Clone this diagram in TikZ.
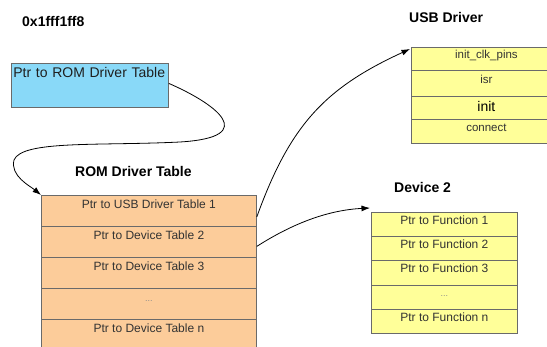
\documentclass[tikz,border=0pt]{standalone}
\usepackage{fontspec}
\setmainfont{Liberation Sans}
\usetikzlibrary{arrows.meta}
\definecolor{peach}{HTML}{FCCC9A}
\definecolor{lyellow}{HTML}{FFFF99}
\definecolor{lblue}{HTML}{89D9F8}
\definecolor{edgegray}{HTML}{6A6A6A}
\definecolor{txtgray}{HTML}{333333}
\tikzset{
  rowbox/.style={draw=edgegray, line width=0.8pt, anchor=north west, inner sep=0pt, text=txtgray},
  romrow/.style={rowbox, fill=peach, minimum width=215pt, text height=13pt, text depth=18pt, font=\fontsize{12}{14}\selectfont},
  usbrow/.style={rowbox, fill=lyellow, minimum width=150pt, font=\fontsize{11.5}{13}\selectfont},
  devrow/.style={rowbox, fill=lyellow, minimum width=146pt, text height=12pt, text depth=12.2pt, font=\fontsize{12}{14}\selectfont},
  dotsrow/.style={text=black!45, font=\fontsize{9}{10}\selectfont},
  bluebox/.style={draw=edgegray, line width=0.8pt, fill=lblue, anchor=north west, minimum width=157pt, text width=153pt, inner xsep=2pt, inner ysep=0pt, align=left, text height=14pt, text depth=30pt, font=\fontsize{14}{16}\selectfont, text=black!88},
  title/.style={anchor=base west, inner sep=0pt, font=\bfseries\fontsize{14}{16}\selectfont},
  ptr/.style={-{Latex[length=8.5pt,width=6pt]}, line width=0.8pt},
}
\begin{document}
\begin{tikzpicture}[x=1pt,y=-1pt]
\clip (0,0) rectangle (547,347);
\fill[white] (0,0) rectangle (547,347);

% titles
\node[title] (addr) at (22,27) {0x1fff1ff8};
\node[title] (romtitle) at (75,177) {ROM Driver Table};
\node[title] (usbtitle) at (409,23) {USB Driver};
\node[title] (devtitle) at (394,193) {Device 2};

% pointer box
\node[bluebox] (romptr) at (11,63) {\mbox{Ptr to ROM Driver Table}};

% ROM driver table
\node[romrow] (rom1) at (41,195) {Ptr to USB Driver Table 1};
\node[romrow] (rom2) at (41,226) {Ptr to Device Table 2};
\node[romrow] (rom3) at (41,257) {Ptr to Device Table 3};
\node[romrow, dotsrow] (rom4) at (41,288) {...};
\node[romrow] (rom5) at (41,319) {Ptr to Device Table n};

% USB driver table
\node[usbrow, text height=11pt, text depth=12pt] (usb1) at (411,47) {init\_clk\_pins};
\node[usbrow, text height=13pt, text depth=13pt] (usb2) at (411,70) {isr};
\node[usbrow, text height=15pt, text depth=8pt, font=\fontsize{14}{16}\selectfont, text=black] (usb3) at (411,96) {init};
\node[usbrow, text height=12pt, text depth=12pt] (usb4) at (411,119) {connect};

% Device 2 table
\node[devrow] (dev1) at (371,212) {Ptr to Function 1};
\node[devrow] (dev2) at (371,236.2) {Ptr to Function 2};
\node[devrow] (dev3) at (371,260.4) {Ptr to Function 3};
\node[devrow, dotsrow] (dev4) at (371,284.6) {...};
\node[devrow] (dev5) at (371,308.8) {Ptr to Function n};

% connectors
\draw[ptr] ([yshift=2pt]romptr.east) .. controls (214,103) and (262,137) .. (180,142)
  .. controls (100,146) and (22,140) .. (14,160)
  .. controls (10,176) and (30,186) .. (rom1.north west);
\draw[ptr] ([yshift=-6pt]rom1.east) .. controls (290,125) and (325,88) .. ([shift={(-1pt,-2pt)}]usb1.north west);
\draw[ptr] ([yshift=-4.5pt]rom2.east) .. controls (295,222) and (330,210) .. ([shift={(-1pt,4pt)}]dev1.north west);
\end{tikzpicture}
\end{document}
